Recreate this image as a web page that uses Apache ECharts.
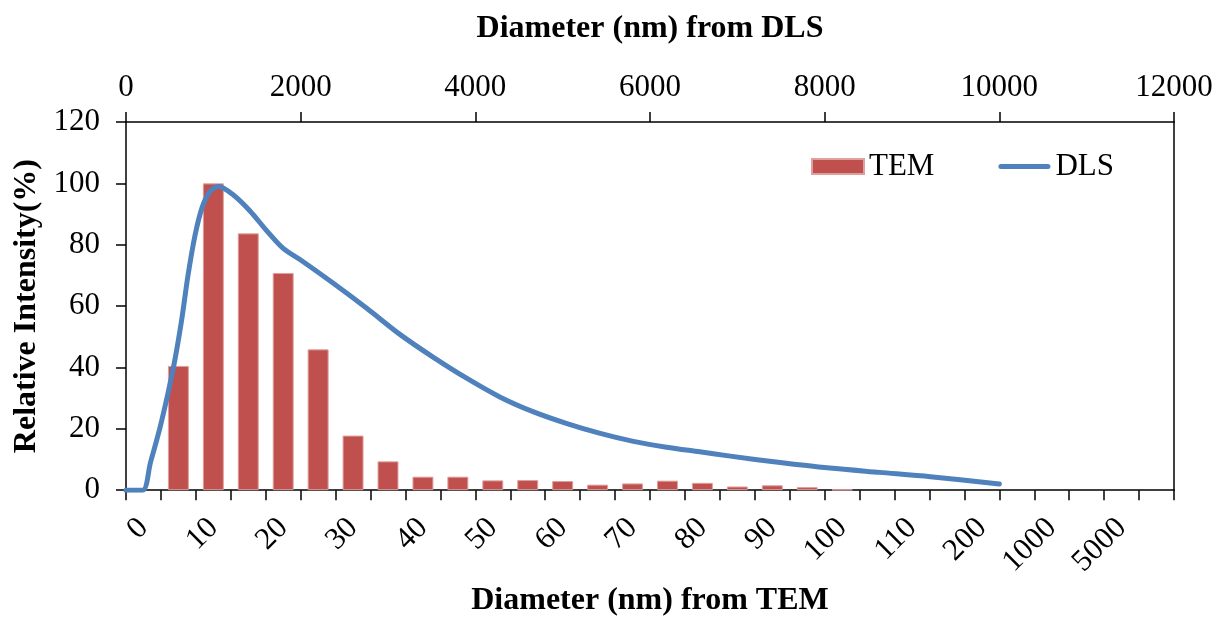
<!DOCTYPE html>
<html>
<head>
<meta charset="utf-8">
<script src="https://cdn.jsdelivr.net/npm/echarts@6/dist/echarts.min.js"></script>
<style>
  html, body { margin: 0; padding: 0; background: #ffffff; }
  #chart { width: 1219px; height: 622px; }
</style>
</head>
<body>
<div id="chart"></div>
<script>
// TEM histogram (bottom category axis)
const temCategories = ['0','5','10','15','20','25','30','35','40','45','50','55','60','65','70','75','80','85','90','95','100','105','110','150','200','500','1000','2000','5000','10000'];
const temValues = [null,40.5,100,83.7,70.8,45.9,17.8,9.4,4.4,4.4,3.2,3.3,3.0,1.8,2.2,3.1,2.4,1.2,1.6,1.0,0.2,null,null,null,null,null,null,null,null,null];

// DLS distribution (top value axis, nm)
const dlsDiameter = [0,190,280,390,480,560,640,710,790,870,960,1060,1230,1420,1610,1800,2000,2370,2760,3140,3520,3900,4280,4660,5050,5430,5810,6190,6570,6920,7490,8060,8630,9210,10000];
const dlsIntensity = [0,0,9,20.5,31.5,42.5,56,70,83,92,97.3,99,96.2,91,84.6,78.8,75,67.5,59.2,50.7,43.3,36.5,30.4,25.6,21.7,18.5,15.9,14.0,12.5,11.1,9.0,7.2,5.8,4.4,2.0];

const FONT = 'Liberation Serif';
const dlsData = dlsDiameter.map((d, i) => [d, dlsIntensity[i]]);

const chart = echarts.init(document.getElementById('chart'), null, { renderer: 'canvas' });
chart.setOption({
  animation: false,
  backgroundColor: '#ffffff',
  textStyle: { fontFamily: FONT, color: '#000' },
  grid: { left: 126, right: 45, top: 122, bottom: 122, containLabel: false },
  legend: {
    left: 811, top: 151, padding: 0,
    itemWidth: 52, itemHeight: 15, itemGap: 64,
    textStyle: { fontFamily: FONT, fontSize: 31, color: '#000' },
    data: [
      { name: 'TEM', icon: 'rect' },
      { name: 'DLS', icon: 'path://M2.5,0 L49.5,0 A2.5,2.5 0 0 1 49.5,5 L2.5,5 A2.5,2.5 0 0 1 2.5,0 Z' }
    ]
  },
  xAxis: [
    {
      type: 'category',
      position: 'bottom',
      data: temCategories,
      boundaryGap: true,
      name: 'Diameter (nm) from TEM',
      nameLocation: 'middle',
      nameGap: 89,
      nameTextStyle: { fontFamily: FONT, fontSize: 32, fontWeight: 'bold', color: '#000' },
      axisLine: { lineStyle: { color: '#000', width: 1.5 } },
      axisTick: { show: true, inside: false, length: 10, interval: 0, lineStyle: { color: '#000', width: 1.5 } },
      axisLabel: { interval: 1, rotate: 45, margin: 33, fontFamily: FONT, fontSize: 31, color: '#000' },
      splitLine: { show: false }
    },
    {
      type: 'value',
      position: 'top',
      min: 0, max: 12000, interval: 2000,
      name: 'Diameter (nm) from DLS',
      nameLocation: 'middle',
      nameGap: 77,
      nameTextStyle: { fontFamily: FONT, fontSize: 32, fontWeight: 'bold', color: '#000' },
      axisLine: { show: true, onZero: false, lineStyle: { color: '#000', width: 1.5 } },
      axisTick: { show: true, inside: false, length: 10, lineStyle: { color: '#000', width: 1.5 } },
      axisLabel: { margin: 19, fontFamily: FONT, fontSize: 31, color: '#000', formatter: v => String(v) },
      splitLine: { show: false }
    }
  ],
  yAxis: [
    {
      type: 'value',
      position: 'left',
      min: 0, max: 120, interval: 20,
      name: 'Relative Intensity(%)',
      nameLocation: 'middle',
      nameGap: 80,
      nameTextStyle: { fontFamily: FONT, fontSize: 32, fontWeight: 'bold', color: '#000' },
      axisLine: { show: true, lineStyle: { color: '#000', width: 1.5 } },
      axisTick: { show: true, inside: false, length: 10, lineStyle: { color: '#000', width: 1.5 } },
      axisLabel: { margin: 26, fontFamily: FONT, fontSize: 31, color: '#000' },
      splitLine: { show: false }
    },
    {
      type: 'value',
      position: 'right',
      min: 0, max: 120, interval: 20,
      axisLine: { show: true, lineStyle: { color: '#000', width: 1.5 } },
      axisTick: { show: false },
      axisLabel: { show: false },
      splitLine: { show: false }
    }
  ],
  series: [
    {
      name: 'TEM',
      type: 'bar',
      xAxisIndex: 0,
      yAxisIndex: 0,
      data: temValues,
      barWidth: '60%',
      itemStyle: { color: '#C0504D', borderColor: '#DDA09E', borderWidth: 1 },
      z: 2
    },
    {
      name: 'DLS',
      type: 'line',
      xAxisIndex: 1,
      yAxisIndex: 0,
      data: dlsData,
      smooth: 0.3,
      symbol: 'none',
      lineStyle: { color: '#4F81BD', width: 5, cap: 'round', join: 'round' },
      itemStyle: { color: '#4F81BD' },
      z: 3
    }
  ]
});
</script>
</body>
</html>
